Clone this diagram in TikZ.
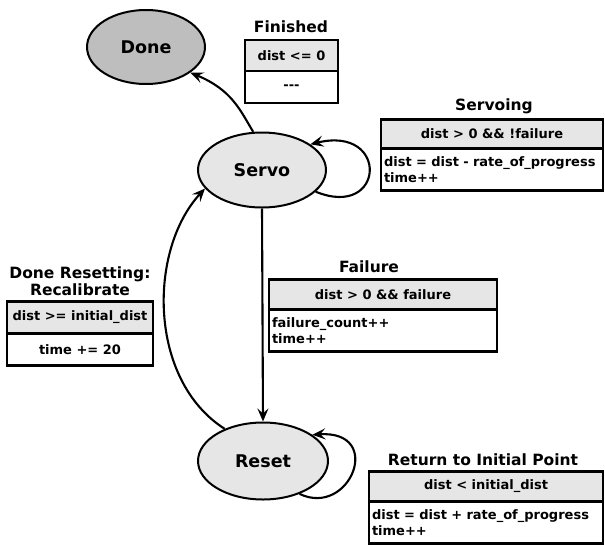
\documentclass[tikz,border=0pt]{standalone}
\usepackage{fontspec}
\setmainfont{DejaVu Sans}
\usetikzlibrary{arrows.meta,shapes.geometric}
\definecolor{statefill}{HTML}{E6E6E6}
\definecolor{donefill}{HTML}{BEBEBE}
\tikzset{
  state/.style={ellipse,draw,line width=2pt,fill=statefill,inner sep=0pt,font=\fontsize{17.5}{20}\selectfont\bfseries},
  tr title/.style={font=\fontsize{15.5}{18}\selectfont\bfseries,inner sep=0pt},
  tr head/.style={draw,line width=2.3pt,fill=statefill,inner sep=0pt,font=\fontsize{13}{15.5}\selectfont\bfseries},
  tr body/.style={draw,line width=2.3pt,fill=white,inner sep=3pt,anchor=north,font=\fontsize{13}{15.5}\selectfont\bfseries},
  arr/.style={line width=2.1pt,-{Stealth[length=13pt,width=11pt,inset=5pt]}}
}
\begin{document}
\begin{tikzpicture}[x=1pt,y=-1pt]
\useasboundingbox (0,0) rectangle (605,544);
% states
\node[state,fill=donefill,minimum width=118pt,minimum height=74pt] (done) at (146,47) {Done};
\node[state,minimum width=128pt,minimum height=75pt] (servo) at (262,170) {Servo};
\node[state,minimum width=130pt,minimum height=77pt] (reset) at (263,461) {Reset};
% Finished
\node[tr head,minimum width=93pt,minimum height=31pt] (fh) at (291.5,55.5) {dist <= 0};
\node[tr body,minimum width=93pt,minimum height=32pt] (fb) at ([yshift=2.3pt]fh.south) {-{}-{}-};
\node[tr title] (ft) at (291,27) {Finished};
% Servoing
\node[tr head,minimum width=222pt,minimum height=29pt] (sh) at (492,134) {dist > 0 \&\& !failure};
\node[tr body,minimum width=222pt,minimum height=42pt,align=left,text width=216pt] (sb) at ([yshift=2.3pt]sh.south) {dist = dist - rate\_of\_progress\\time++};
\node[tr title] (st) at (494,106) {Servoing};
% Failure
\node[tr head,minimum width=228pt,minimum height=30pt] (fah) at (383,294.5) {dist > 0 \&\& failure};
\node[tr body,minimum width=228pt,minimum height=42pt,align=left,text width=222pt] (fab) at ([yshift=2.3pt]fah.south) {failure\_count++\\time++};
\node[tr title] (fat) at (369,267) {Failure};
% Done Resetting
\node[tr head,minimum width=146pt,minimum height=32pt] (dh) at (80,317.5) {dist >= initial\_dist};
\node[tr body,minimum width=146pt,minimum height=32pt] (db) at ([yshift=2.3pt]dh.south) {time += 20};
\node[tr title,align=center] (dt) at (80,281.5) {Done Resetting:\\[-1pt]Recalibrate};
% Return to Initial Point
\node[tr head,minimum width=234pt,minimum height=30pt] (rh) at (486,486.5) {dist < initial\_dist};
\node[tr body,minimum width=234pt,minimum height=42pt,align=left,text width=228pt] (rb) at ([yshift=2.3pt]rh.south) {dist = dist + rate\_of\_progress\\time++};
\node[tr title] (rt) at (483,460) {Return to Initial Point};
% connectors
\draw[arr] (servo.103) .. controls (240,110) and (232,90) .. (done.-30);
\draw[arr] (servo.-22) .. controls (385,220) and (390,125) .. (servo.28);
\draw[arr] (servo.south -| 262,0) -- (reset.north);
\draw[arr] (reset.-42) .. controls (350,518) and (385,430) .. (reset.28);
\draw[arr] (reset.140) .. controls (148,380) and (148,250) .. (servo.-162);
\end{tikzpicture}
\end{document}
